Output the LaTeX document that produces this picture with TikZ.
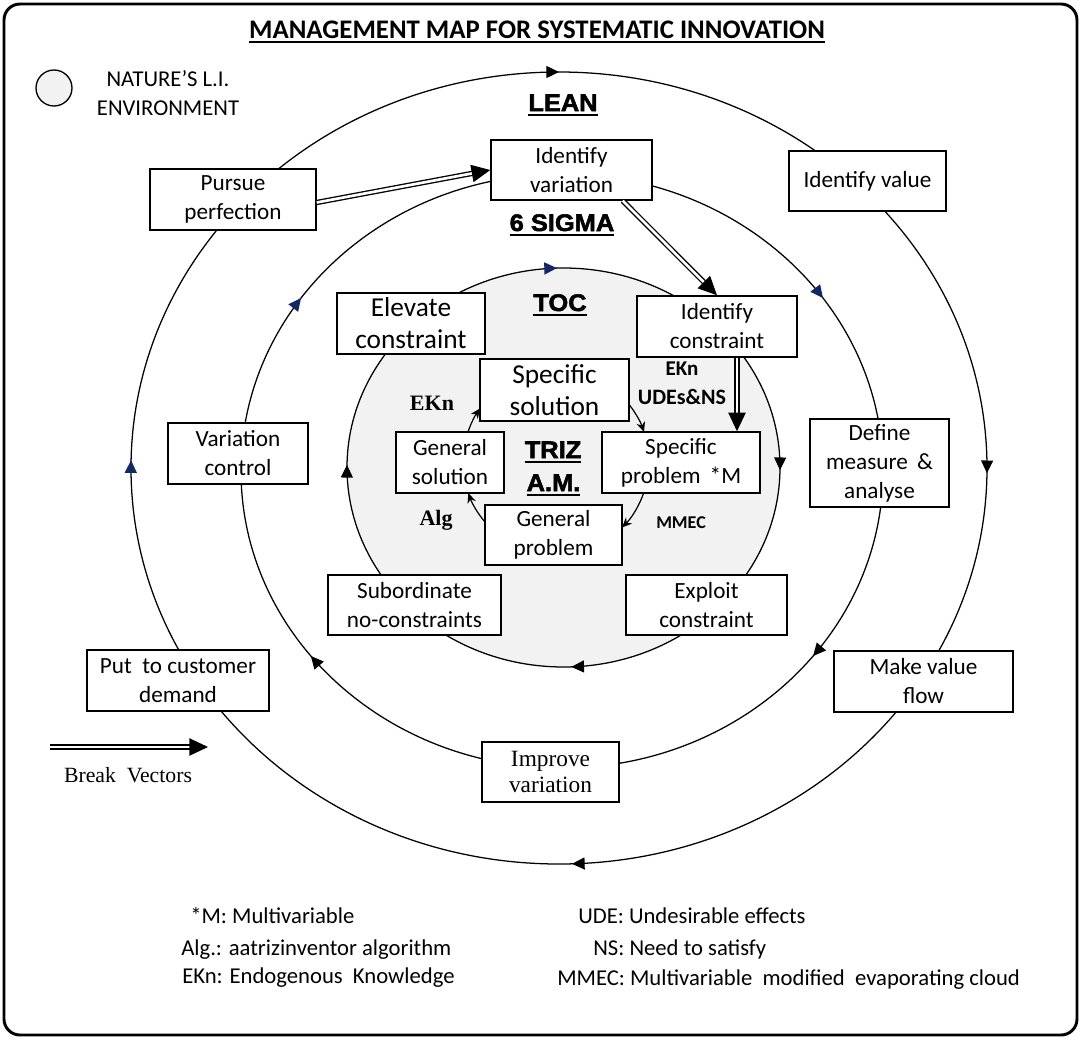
\documentclass[tikz,border=0pt]{standalone}
\usepackage{fontspec}
\setmainfont{Carlito}
\newfontfamily\blackf{Liberation Sans}[FakeStretch=1.06,FakeBold=2.2]
\newfontfamily\timesf{Liberation Serif}
\usetikzlibrary{arrows.meta,decorations.markings,calc}
\definecolor{navy}{RGB}{18,40,98}
\definecolor{tocgray}{RGB}{242,242,242}
\newcommand{\myul}[2][0.085em]{\setbox0\hbox{#2}\rlap{\rule[-0.2em]{\wd0}{#1}}\box0}
\tikzset{
  tri/.tip={Triangle[length=9.5pt,width=9pt]},
  ntri/.tip={Triangle[length=9.5pt,width=9pt,color=navy]},
  cyc/.style={line width=0.95pt},
  box/.style 2 args={draw, line width=1.1pt, fill=white, minimum width=#1*0.75pt, minimum height=#2*0.75pt, inner sep=0pt, align=center, font=\fontsize{17.4}{21.75}\selectfont},
  bigtxt/.style={font=\fontsize{20.5}{24}\selectfont},
  sertxt/.style={font=\timesf\fontsize{17.5}{20}\selectfont},
  brk/.style={double, double distance=2pt, line width=1pt, -{Triangle[length=14pt,width=13pt]}},
  sarr/.style={line width=0.9pt, -{Stealth[length=7.5pt,width=6.5pt]}},
  lbl/.style={inner sep=0pt, anchor=base},
  heavy/.style={lbl, font=\blackf\bfseries\fontsize{18}{20}\selectfont},
  leg/.style={inner sep=0pt, anchor=base west, font=\fontsize{17}{20}\selectfont},
}
\begin{document}
\begin{tikzpicture}[x=0.75pt,y=-0.75pt]
\useasboundingbox (0,0) rectangle (1081,1039);
\draw[line width=2.2pt, rounded corners=12pt] (4,4) rectangle (1077,1035);

% title and environment legend
\node[lbl, font=\bfseries\fontsize{20.1}{23}\selectfont] (title) at (537,38) {\myul{MANAGEMENT MAP FOR SYSTEMATIC INNOVATION}};
\node[draw, circle, fill=tocgray, line width=1pt, minimum size=27pt, inner sep=0pt] (nat) at (54,88) {};
\node[align=center, inner sep=0pt, font=\fontsize{17}{21.75}\selectfont] (natt) at (168,93) {NATURE\char"0027S L.I.\\ENVIRONMENT};

% cycles
\draw[cyc, postaction={decorate, decoration={markings,
  mark=at position 0.002 with {\arrow{tri}},
  mark=at position 0.245 with {\arrow{tri}},
  mark=at position 0.503 with {\arrow{ntri}},
  mark=at position 0.75 with {\arrow{tri}}}}]
  (559,468) ellipse [x radius=428, y radius=396];
\draw[cyc, postaction={decorate, decoration={markings,
  mark=at position 0.104 with {\arrow{tri}},
  mark=at position 0.396 with {\arrow{tri}},
  mark=at position 0.596 with {\arrow{ntri}},
  mark=at position 0.904 with {\arrow{ntri}}}}]
  (562,471) ellipse [x radius=321, y radius=297];
\draw[cyc, fill=tocgray, postaction={decorate, decoration={markings,
  mark=at position 0.002 with {\arrow{tri}},
  mark=at position 0.244 with {\arrow{tri}},
  mark=at position 0.502 with {\arrow{tri}},
  mark=at position 0.745 with {\arrow{ntri}}}}]
  (563.5,467.5) ellipse [x radius=216.5, y radius=199.5];

% cycle labels
\node[heavy] (lean) at (563,111) {\myul{LEAN}};
\node[heavy] (six) at (562,231) {\myul{6 SIGMA}};
\node[heavy] (toc) at (560,311) {\myul{TOC}};
\node[heavy] (triz) at (553,458) {\myul{TRIZ}};
\node[heavy] (am) at (553.5,491) {\myul{A.M.}};

% boxes
\node[box={161}{60}] (iv) at (571.5,170) {Identify\\variation};
\node[box={166}{61}] (pp) at (233,199.5) {Pursue\\perfection};
\node[box={157}{60}] (ival) at (867.5,181) {Identify value};
\node[box={148}{61}, bigtxt] (ec) at (411,323.5) {Elevate\\constraint};
\node[box={160}{61}] (ic) at (717,326.5) {Identify\\constraint};
\node[box={149}{62}, bigtxt] (ss) at (554.5,390) {Specific\\solution};
\node[box={108}{61}] (gs) at (450,462.5) {General\\solution};
\node[box={158}{61}] (sp) at (681,462.5) {Specific\\problem \,*M};
\node[box={137}{60}] (gp) at (553.5,535) {General\\problem};
\node[box={140}{61}] (vc) at (238,453.5) {Variation\\control};
\node[box={139}{88}] (dm) at (879.5,463) {Define\\measure \,\&\\analyse};
\node[box={173}{60}] (sn) at (414.5,605) {Subordinate\\no-constraints};
\node[box={161}{60}] (ex) at (706.5,605) {Exploit\\constraint};
\node[box={182}{61}] (pc) at (178,680.5) {Put\ \ to customer\\demand};
\node[box={179}{61}] (mv) at (923.5,681.5) {Make value\\flow};
\node[box={137}{60}, sertxt] (im) at (550.5,772) {Improve\\variation};

% break vectors
\draw[brk] ([yshift=-2.25pt]pp.east) -- (iv.west);
\draw[brk] ([xshift=-22.5pt]iv.south east) -- (ic.north);
\draw[brk] ([xshift=15pt]ic.south) -- ([xshift=15pt]ic.south |- sp.north);

% TRIZ cycle
\coordinate (tc) at (556,462);
\draw[sarr] ([shift={(-38.3:93)}]tc) arc[start angle=-38.3, end angle=-18.8, radius=93];
\draw[sarr] ([shift={(19.5:93)}]tc) arc[start angle=19.5, end angle=44.8, radius=93];
\draw[sarr] ([shift={(139.8:93)}]tc) arc[start angle=139.8, end angle=160.5, radius=93];
\draw[sarr] ([shift={(198.8:93)}]tc) arc[start angle=198.8, end angle=215.2, radius=93];

% small labels
\node[lbl, font=\timesf\bfseries\fontsize{16.5}{18}\selectfont] (ekn1) at (432,410) {EKn};
\node[lbl, font=\timesf\bfseries\fontsize{16.5}{18}\selectfont] (alg) at (436,525) {Alg};
\node[lbl, font=\bfseries\fontsize{15.75}{18}\selectfont] (ekn2) at (682,375) {EKn};
\node[lbl, font=\bfseries\fontsize{16.5}{18}\selectfont] (udes) at (682,404) {UDEs\&NS};
\node[lbl, font=\bfseries\fontsize{13.5}{16}\selectfont] (mmec) at (681,528) {MMEC};

% break vector legend
\coordinate (bv1) at (50,747);
\coordinate (bv2) at (208,747);
\draw[brk] (bv1) -- (bv2);
\node[inner sep=0pt, font=\timesf\fontsize{16.3}{18}\selectfont] (bvt) at (128,775) {Break\ \ Vectors};

% glossary
\node[leg] (l1) at (190,923) {*M: Multivariable};
\node[leg] (l2) at (181,955) {Alg.: aatrizinventor algorithm};
\node[leg] (l3) at (182,983) {EKn: Endogenous\ \ Knowledge};
\node[leg] (r1) at (578,923) {UDE: Undesirable effects};
\node[leg] (r2) at (593,955) {NS: Need to satisfy};
\node[leg] (r3) at (557,985) {MMEC: Multivariable\ \ modified\ \ evaporating cloud};
\end{tikzpicture}
\end{document}
